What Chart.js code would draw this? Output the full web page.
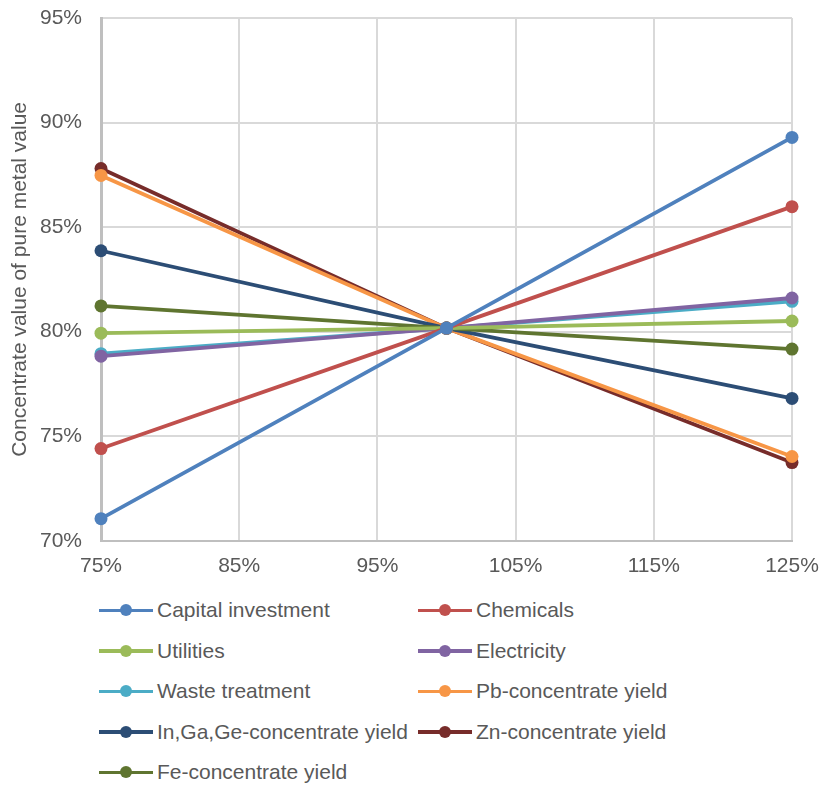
<!DOCTYPE html>
<html>
<head>
<meta charset="utf-8">
<script src="https://cdn.jsdelivr.net/npm/chart.js@4/dist/chart.umd.min.js"></script>
<style>
  body { margin: 0; background: #fff; font-family: "Liberation Sans", Arial, sans-serif; }
  #wrap { position: relative; width: 824px; height: 592px; }
  #legend { position: absolute; top: 590px; left: 99px; width: 700px; }
  .item { position: absolute; height: 24px; display: flex; align-items: center; color: #595959; font-size: 21px; white-space: nowrap; }
  .swatch { position: relative; width: 54px; height: 24px; margin-right: 4px; }
  .swatch .ln { position: absolute; left: 0; right: 0; top: 10.5px; height: 3.5px; }
  .swatch .dot { position: absolute; left: 21px; top: 6px; width: 12px; height: 12px; border-radius: 50%; }
</style>
</head>
<body>
<div id="wrap"><canvas id="chart"></canvas></div>
<div id="legend"></div>
<script>
const xValues = [75, 100, 125];
const seriesNames = [
  'Capital investment', 'Chemicals', 'Utilities', 'Electricity', 'Waste treatment',
  'Pb-concentrate yield', 'In,Ga,Ge-concentrate yield', 'Zn-concentrate yield', 'Fe-concentrate yield'
];
const capitalInvestment = [71.06, 80.17, 89.29];
const chemicals = [74.41, 80.17, 85.98];
const utilities = [79.93, 80.17, 80.51];
const electricity = [78.83, 80.17, 81.61];
const wasteTreatment = [78.95, 80.17, 81.45];
const pbYield = [87.47, 80.17, 74.03];
const inGaGeYield = [83.87, 80.17, 76.81];
const znYield = [87.80, 80.17, 73.74];
const feYield = [81.23, 80.17, 79.17];
const seriesValues = [capitalInvestment, chemicals, utilities, electricity, wasteTreatment, pbYield, inGaGeYield, znYield, feYield];
const colors = ['#4F81BD', '#C0504D', '#9BBB59', '#8064A2', '#4BACC6', '#F79646', '#2C4D75', '#772C2A', '#5F7530'];
const xTicks = [75, 85, 95, 105, 115, 125];
const yTicks = [70, 75, 80, 85, 90, 95];

const tickFont = { family: 'Liberation Sans', size: 21 };

const datasets = seriesNames.map((name, i) => ({
  label: name,
  data: xValues.map((x, j) => ({ x: x, y: seriesValues[i][j] })),
  borderColor: colors[i],
  backgroundColor: colors[i],
  borderWidth: 3.8,
  pointRadius: 6.5,
  pointHoverRadius: 6.5,
  pointBorderWidth: 0,
  clip: false
}));
// draw order: later ones on top, matching the reference stacking
const order = [0, 1, 2, 3, 4, 8, 6, 5, 7];
const ordered = order.map(i => datasets[i]);

new Chart(document.getElementById('chart'), {
  type: 'line',
  data: { datasets: ordered },
  options: {
    responsive: true,
    maintainAspectRatio: false,
    animation: false,
    layout: { autoPadding: false, padding: { top: 18, right: 32, left: 4, bottom: 0 } },
    plugins: { legend: { display: false }, tooltip: { enabled: false } },
    scales: {
      x: {
        type: 'linear', min: 75, max: 125,
        afterBuildTicks: s => { s.ticks = xTicks.map(v => ({ value: v })); },
        afterFit: s => { s.paddingLeft = 0; s.paddingRight = 0; },
        ticks: { callback: v => v + '%', color: '#595959', font: tickFont, padding: 13, maxRotation: 0 },
        grid: { color: '#D9D9D9', lineWidth: 2, drawTicks: false },
        border: { color: '#BFBFBF', width: 2 }
      },
      y: {
        min: 70, max: 95,
        afterBuildTicks: s => { s.ticks = yTicks.map(v => ({ value: v })); },
        afterFit: s => { s.width = 97; s.paddingTop = 0; s.paddingBottom = 0; },
        ticks: { callback: v => v + '%', color: '#595959', font: tickFont, padding: 19 },
        grid: { color: '#D9D9D9', lineWidth: 2, drawTicks: false },
        border: { color: '#BFBFBF', width: 3 },
        title: { display: true, text: 'Concentrate value of pure metal value', color: '#595959', font: tickFont, padding: 4 }
      }
    }
  }
});

const legend = document.getElementById('legend');
seriesNames.forEach((name, i) => {
  const row = Math.floor(i / 2), col = i % 2;
  const el = document.createElement('div');
  el.className = 'item';
  el.style.left = (col * 319) + 'px';
  el.style.top = (8 + row * 40.5) + 'px';
  el.innerHTML = '<div class="swatch"><div class="ln" style="background:' + colors[i] + '"></div><div class="dot" style="background:' + colors[i] + '"></div></div><span>' + name + '</span>';
  legend.appendChild(el);
});
</script>
</body>
</html>
